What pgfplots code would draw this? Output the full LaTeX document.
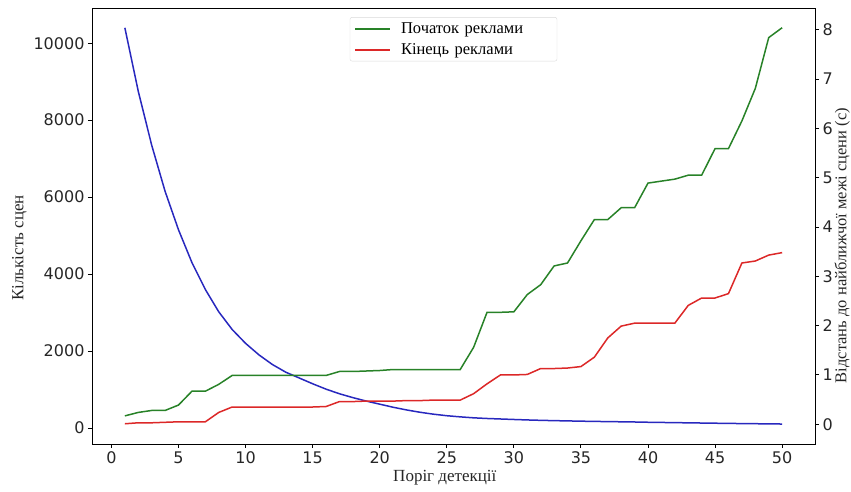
\documentclass[border=0pt]{standalone}
\usepackage{fontspec}
\setmainfont{Liberation Serif}
\newfontfamily\ticksfont{DejaVu Sans}
\usepackage{pgfplots}
\pgfplotsset{compat=1.18}
\usepackage{pgfplotstable}

\definecolor{mplblue}{RGB}{40,40,190}
\definecolor{mplgreen}{RGB}{40,130,40}
\definecolor{mplred}{RGB}{220,40,40}

% number of scenes vs detection threshold (left axis)
\pgfplotstableread{
x scenes
1 10400
2 8750
3 7350
4 6150
5 5150
6 4300
7 3600
8 3020
9 2560
10 2200
11 1900
12 1650
13 1450
14 1300
15 1150
16 1010
17 890
18 790
19 700
20 620
21 540
22 470
23 410
24 360
25 320
26 290
27 265
28 248
29 235
30 222
31 210
32 200
33 192
34 185
35 178
36 172
37 167
38 162
39 157
40 150
41 145
42 140
43 135
44 130
45 125
46 120
47 116
48 112
49 108
50 104
}\scenes

% distance to nearest scene boundary (right axis)
\pgfplotstableread{
x start end
1 0.17 0.01
2 0.24 0.03
3 0.28 0.03
4 0.28 0.04
5 0.39 0.05
6 0.67 0.05
7 0.67 0.05
8 0.81 0.24
9 0.99 0.35
10 0.99 0.35
11 0.99 0.35
12 0.99 0.35
13 0.99 0.35
14 0.99 0.35
15 0.99 0.35
16 0.99 0.36
17 1.07 0.46
18 1.07 0.46
19 1.08 0.47
20 1.09 0.47
21 1.11 0.47
22 1.11 0.48
23 1.11 0.48
24 1.11 0.49
25 1.11 0.49
26 1.11 0.49
27 1.56 0.62
28 2.27 0.82
29 2.27 1.00
30 2.28 1.00
31 2.63 1.01
32 2.83 1.13
33 3.21 1.13
34 3.27 1.14
35 3.72 1.17
36 4.15 1.36
37 4.15 1.75
38 4.39 1.99
39 4.39 2.05
40 4.89 2.05
41 4.93 2.05
42 4.97 2.05
43 5.05 2.41
44 5.05 2.56
45 5.59 2.56
46 5.59 2.65
47 6.15 3.27
48 6.81 3.31
49 7.84 3.43
50 8.04 3.48
}\dist

\pgfplotsset{
  common/.style={
    scale only axis, width=723pt, height=436pt,
    xmin=-1.45, xmax=52.45,
    tick align=outside,
    major tick length=4pt,
    major tick style={black, line width=0.9pt},
    axis line style={line width=0.9pt},
    ticklabel style={font=\ticksfont\fontsize{16}{16}\selectfont, text=black!85},
    /pgf/number format/assume math mode=true,
    /pgf/number format/1000 sep={},
    every axis plot/.append style={line width=1.5pt, no marks},
  }
}

\begin{document}
\begin{tikzpicture}
\begin{axis}[common,
  ymin=-415, ymax=10915,
  xtick={0,5,...,50}, ytick={0,2000,...,10000},
  xtick pos=bottom, ytick pos=left,
  scaled y ticks=false,
  xlabel={Поріг детекції}, ylabel={Кількість сцен},
  xlabel style={font=\fontsize{17}{20}\selectfont, text=black!85,
    at={(ticklabel cs:0.488)}, anchor=near ticklabel},
  ylabel style={font=\fontsize{17}{20}\selectfont, text=black!85,
    at={(ticklabel cs:0.45)}, anchor=near ticklabel},
]
\addplot[mplblue] table[x=x, y=scenes] {\scenes};
\end{axis}
\begin{axis}[common,
  ymin=-0.40, ymax=8.44,
  axis x line=none, axis y line*=right,
  ytick={0,...,8},
  yticklabel pos=right,
  ylabel={Відстань до найближчої межі сцени (с)},
  ylabel style={font=\fontsize{16.5}{19}\selectfont, text=black!85,
    at={(ticklabel cs:0.455,-5pt)}, anchor=near ticklabel},
  legend cell align=left,
  legend image code/.code={\draw[#1, line width=2pt] (0pt,0pt) -- (35pt,0pt);},
  legend style={at={(0.5,0.979)}, anchor=north, draw=black!15,
    rounded corners=2pt, font=\fontsize{16.5}{20}\selectfont,
    /tikz/row sep=5pt, /tikz/column sep=8pt,
    /tikz/every even column/.append style={text width=150pt},
    inner xsep=4pt, inner ysep=3pt},
]
\addplot[mplgreen] table[x=x, y=start] {\dist};
\addlegendentry{Початок реклами}
\addplot[mplred] table[x=x, y=end] {\dist};
\addlegendentry{Кінець реклами}
\end{axis}
\pgfresetboundingbox
\path (-92pt,-48pt) rectangle (759pt,444pt);
\end{tikzpicture}
\end{document}
